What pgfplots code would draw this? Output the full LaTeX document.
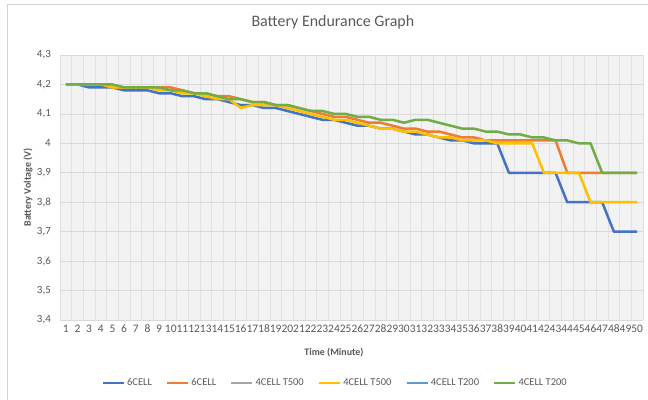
\documentclass[border=0pt]{standalone}
\usepackage{pgfplots}
\pgfplotsset{compat=1.18}
\usepackage{pgfplotstable}
\usepackage{fontspec}
\setmainfont{Carlito}
\definecolor{cBlue}{HTML}{4472C4}
\definecolor{cOrange}{HTML}{ED7D31}
\definecolor{cGray}{HTML}{A5A5A5}
\definecolor{cYellow}{HTML}{FFC000}
\definecolor{cLBlue}{HTML}{5B9BD5}
\definecolor{cGreen}{HTML}{70AD47}
\definecolor{txt}{HTML}{595959}
\definecolor{gridc}{HTML}{D9D9D9}

\pgfplotstableread{
x a b c d
1 4.20 4.20 4.20 4.20
2 4.20 4.20 4.20 4.20
3 4.19 4.20 4.20 4.20
4 4.19 4.20 4.20 4.20
5 4.19 4.19 4.19 4.20
6 4.18 4.19 4.19 4.19
7 4.18 4.19 4.19 4.19
8 4.18 4.19 4.19 4.19
9 4.17 4.19 4.18 4.19
10 4.17 4.19 4.18 4.18
11 4.16 4.18 4.17 4.18
12 4.16 4.17 4.17 4.17
13 4.15 4.17 4.16 4.17
14 4.15 4.16 4.15 4.16
15 4.14 4.16 4.15 4.15
16 4.13 4.15 4.12 4.15
17 4.13 4.14 4.13 4.14
18 4.12 4.14 4.13 4.14
19 4.12 4.13 4.13 4.13
20 4.11 4.13 4.12 4.13
21 4.10 4.12 4.11 4.12
22 4.09 4.11 4.10 4.11
23 4.08 4.10 4.09 4.11
24 4.08 4.09 4.08 4.10
25 4.07 4.09 4.08 4.10
26 4.06 4.08 4.07 4.09
27 4.06 4.07 4.06 4.09
28 4.05 4.07 4.05 4.08
29 4.05 4.06 4.05 4.08
30 4.04 4.05 4.04 4.07
31 4.03 4.05 4.04 4.08
32 4.03 4.04 4.03 4.08
33 4.02 4.04 4.02 4.07
34 4.01 4.03 4.02 4.06
35 4.01 4.02 4.01 4.05
36 4.00 4.02 4.01 4.05
37 4.00 4.01 4.01 4.04
38 4.00 4.01 4.00 4.04
39 3.90 4.01 4.00 4.03
40 3.90 4.01 4.00 4.03
41 3.90 4.01 4.00 4.02
42 3.90 4.01 3.90 4.02
43 3.90 4.01 3.90 4.01
44 3.80 3.90 3.90 4.01
45 3.80 3.90 3.90 4.00
46 3.80 3.90 3.80 4.00
47 3.80 3.90 3.80 3.90
48 3.70 3.90 3.80 3.90
49 3.70 3.90 3.80 3.90
50 3.70 3.90 3.80 3.90
}\data

\begin{document}
\begin{tikzpicture}
\useasboundingbox (0bp,0bp) rectangle (648bp,400bp);
\fill[white] (0bp,0bp) rectangle (648bp,400bp);
\draw[gray!35, line width=0.8bp] (7bp,0bp) -- (7bp,396bp) -- (648bp,396bp);
\begin{axis}[
  at={(60bp,80bp)}, anchor=south west,
  scale only axis, width=583bp, height=265bp,
  xmin=0.5, xmax=50.5, ymin=3.4, ymax=4.3,
  axis line style={draw=none},
  axis background/.style={fill=black!5},
  xtick={1,...,50},
  xticklabel={\pgfmathtruncatemacro\tk{\tick}\tk},
  minor xtick={0.5,1.5,...,50.5},
  xminorgrids, ymajorgrids,
  major grid style={gridc, line width=0.7bp},
  minor grid style={gridc!80, line width=0.5bp},
  major tick length=0pt, minor tick length=0pt,
  ytick={3.4,3.5,3.6,3.7,3.8,3.9,4,4.1,4.2,4.3},
  yticklabels={{3,4},{3,5},{3,6},{3,7},{3,8},{3,9},{4},{4,1},{4,2},{4,3}},
  xticklabel style={font=\fontsize{11.5}{12}\selectfont, text=txt, inner sep=0.5bp, yshift=-4bp},
  yticklabel style={font=\fontsize{11}{12}\selectfont, text=txt, inner sep=1bp, xshift=-8bp},
  title={Battery Endurance Graph},
  title style={at={(0.468,1.102)}, anchor=center, font=\fontsize{16}{18}\selectfont, text=txt},
  xlabel={Time (Minute)},
  xlabel style={at={(0.47,-0.121)}, anchor=center, font=\bfseries\fontsize{10}{12}\selectfont, text=txt},
  ylabel={Battery Voltage (V)},
  ylabel style={at={(-0.055,0.5)}, anchor=center, font=\bfseries\fontsize{10}{12}\selectfont, text=txt},
  legend columns=6,
  legend style={at={(0.472,-0.238)}, anchor=center, draw=none, fill=none,
    font=\fontsize{10.5}{12}\selectfont, text=txt,
    /tikz/every even column/.append style={column sep=12bp}},
  legend image code/.code={\draw[#1] (0bp,0bp) -- (21bp,0bp);},
  every axis plot/.append style={line width=2.5bp, line join=round},
]
\addplot[cBlue] table[x=x, y=a] {\data};
\addlegendentry{6CELL}
\addplot[cOrange] table[x=x, y=b] {\data};
\addlegendentry{6CELL}
\addlegendimage{cGray, line width=2.5bp}
\addlegendentry{4CELL T500}
\addplot[cYellow] table[x=x, y=c] {\data};
\addlegendentry{4CELL T500}
\addlegendimage{cLBlue, line width=2.5bp}
\addlegendentry{4CELL T200}
\addplot[cGreen] table[x=x, y=d] {\data};
\addlegendentry{4CELL T200}
\end{axis}
\end{tikzpicture}
\end{document}
